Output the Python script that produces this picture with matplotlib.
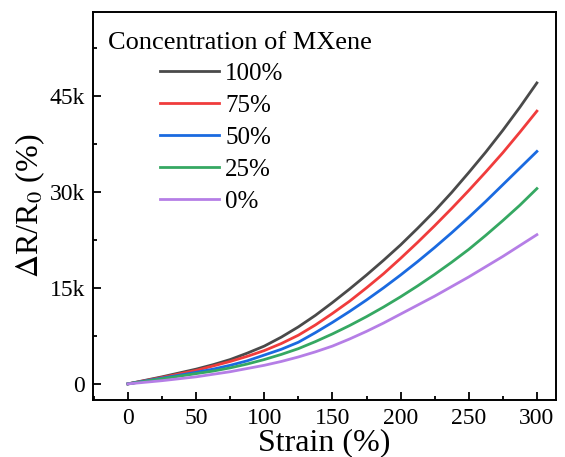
import matplotlib
matplotlib.use("Agg")
import matplotlib.pyplot as plt
from matplotlib.ticker import MultipleLocator, FuncFormatter

plt.rcParams['font.family'] = ['Liberation Serif', 'DejaVu Serif']
plt.rcParams['mathtext.fontset'] = 'stix'

strain = [0, 25, 50, 62.5, 75, 87.5, 100, 112.5, 125, 137.5, 150, 162.5, 175, 187.5,
          200, 212.5, 225, 237.5, 250, 262.5, 275, 287.5, 300]
c100 = [0, 1.1, 2.3, 3.0, 3.8, 4.8, 5.9, 7.3, 8.9, 10.7, 12.7, 14.8, 17.0, 19.3,
        21.7, 24.3, 27.0, 29.9, 33.0, 36.2, 39.6, 43.2, 47.0]
c75 = [0, 1.0, 2.1, 2.8, 3.5, 4.3, 5.2, 6.3, 7.6, 9.2, 11.0, 12.9, 15.0, 17.2,
       19.6, 22.1, 24.7, 27.4, 30.2, 33.1, 36.1, 39.3, 42.6]
c50 = [0, 0.9, 1.8, 2.3, 2.9, 3.6, 4.5, 5.4, 6.5, 8.0, 9.6, 11.3, 13.1, 15.0,
       17.0, 19.1, 21.3, 23.6, 26.0, 28.5, 31.1, 33.7, 36.3]
c25 = [0, 0.8, 1.6, 2.0, 2.5, 3.1, 3.8, 4.6, 5.5, 6.6, 7.8, 9.1, 10.5, 12.0,
       13.6, 15.3, 17.1, 19.0, 21.0, 23.2, 25.5, 27.9, 30.5]
c0 = [0, 0.5, 1.1, 1.5, 1.9, 2.4, 2.9, 3.5, 4.2, 5.0, 5.9, 7.0, 8.2, 9.5,
      10.9, 12.3, 13.7, 15.2, 16.7, 18.3, 19.9, 21.6, 23.3]
labels = ['100%', '75%', '50%', '25%', '0%']
colors = ['#4a4a4a', '#f03c3c', '#1a6ae0', '#35a862', '#b57ee6']
series = [c100, c75, c50, c25, c0]

fig = plt.figure(figsize=(5.65, 4.57), dpi=100)
ax = fig.add_axes([0.165, 0.125, 0.819, 0.849])

handles = []
for vals, col, lab in zip(series, colors, labels):
    h, = ax.plot(strain, [v * 1000 for v in vals], color=col, lw=2.0, label=lab)
    handles.append(h)

ax.set_xlim(-25.5, 314)
ax.set_ylim(-2500, 58100)
ax.xaxis.set_major_locator(MultipleLocator(50))
ax.xaxis.set_minor_locator(MultipleLocator(25))
ax.yaxis.set_major_locator(MultipleLocator(15000))
ax.yaxis.set_minor_locator(MultipleLocator(7500))
ax.yaxis.set_major_formatter(FuncFormatter(lambda v, p: '0' if v == 0 else f'{int(v/1000)}k'))

ax.tick_params(which='both', direction='in', width=1.3, labelsize=17)
ax.tick_params(which='major', length=6)
ax.tick_params(which='minor', length=3)
ax.tick_params(axis='x', pad=6)
ax.tick_params(axis='y', pad=6)
for s in ax.spines.values():
    s.set_linewidth(1.4)

ax.set_xlabel('Strain (%)', fontsize=23, labelpad=-1)
ax.set_ylabel(r'$\Delta$R/R$_0$ (%)', fontsize=23, labelpad=2)

ax.text(0.032, 0.919, 'Concentration of MXene', transform=ax.transAxes,
        fontsize=19, va='center', ha='left')
ax.legend(handles=handles, loc='upper left', bbox_to_anchor=(0.145, 0.870),
          frameon=False, fontsize=18, handlelength=2.36, handletextpad=0.24,
          labelspacing=0.38, borderaxespad=0, borderpad=0)

fig.savefig('out.png', dpi=100)
